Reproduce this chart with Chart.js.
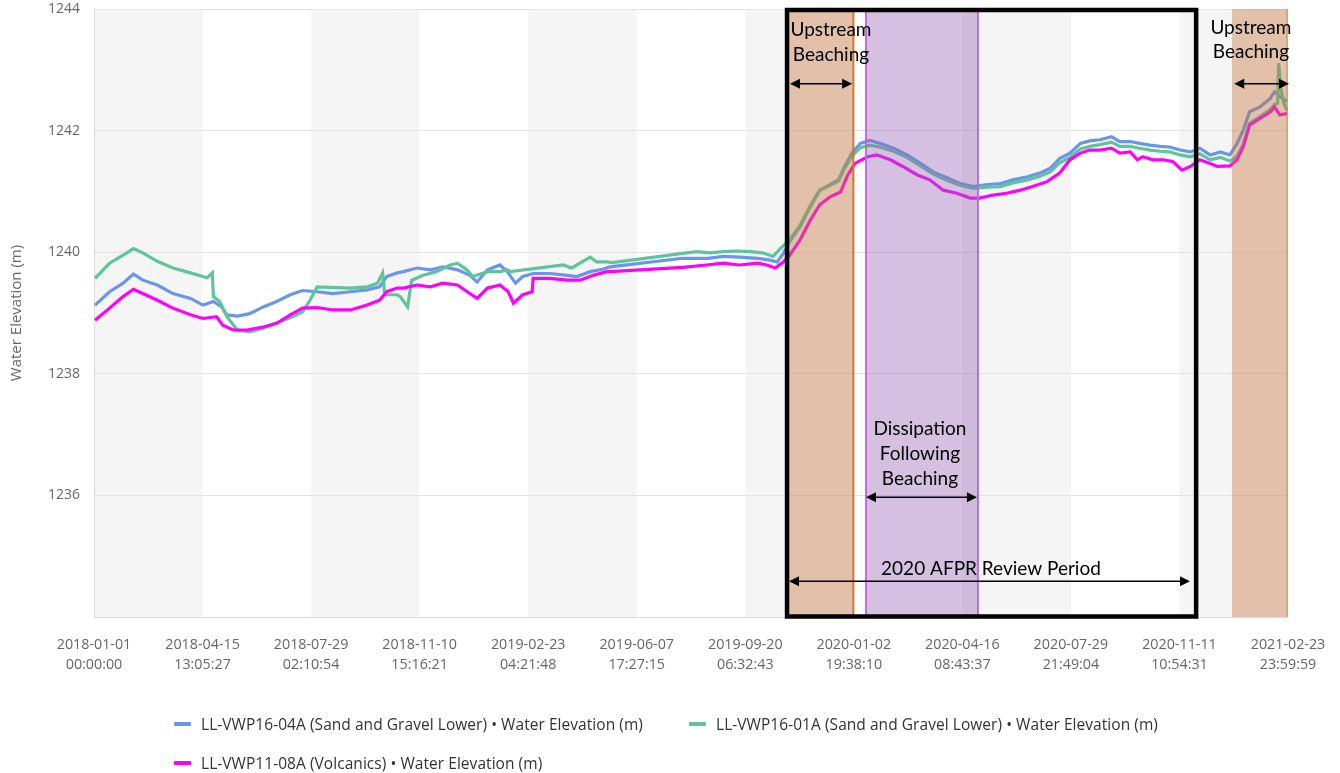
<!DOCTYPE html>
<html>
<head>
<meta charset="utf-8">
<title>Water Elevation</title>
<script src="https://cdn.jsdelivr.net/npm/chart.js@4.4.1/dist/chart.umd.min.js"></script>
<style>
  html, body { margin: 0; padding: 0; background: #ffffff; }
  #wrap { position: relative; width: 1340px; height: 773px; }
  #wrap canvas { position: absolute; left: 0; top: 0; }
  #legend { position: absolute; left: 0; top: 0; width: 1340px; height: 773px; pointer-events: none;
            font-family: "Open Sans", sans-serif; font-size: 15.5px; letter-spacing: 0.05px; color: #333333; }
  .item { position: absolute; height: 20px; line-height: 20px; display: flex; align-items: center; white-space: nowrap; }
  .swatch { width: 17px; height: 4px; margin-right: 10px; border-radius: 1px; }
</style>
</head>
<body>
<div id="wrap">
  <canvas id="chart" width="1340" height="773"></canvas>
  <div id="legend"></div>
</div>
<script>
// ---- Axis labels (days are counted from 2018-01-01 00:00:00) ----
const tickLabels = [
  ['2018-01-01', '00:00:00'], ['2018-04-15', '13:05:27'], ['2018-07-29', '02:10:54'],
  ['2018-11-10', '15:16:21'], ['2019-02-23', '04:21:48'], ['2019-06-07', '17:27:15'],
  ['2019-09-20', '06:32:43'], ['2020-01-02', '19:38:10'], ['2020-04-16', '08:43:37'],
  ['2020-07-29', '21:49:04'], ['2020-11-11', '10:54:31'], ['2021-02-23', '23:59:59']
];
const xMax = 1149 + 86399 / 86400;           // 2021-02-23 23:59:59
const tickDays = tickLabels.map((_, i) => i * xMax / (tickLabels.length - 1));

const seriesNames = [
  'LL-VWP16-04A (Sand and Gravel Lower) \u2022 Water Elevation (m)',
  'LL-VWP16-01A (Sand and Gravel Lower) \u2022 Water Elevation (m)',
  'LL-VWP11-08A (Volcanics) \u2022 Water Elevation (m)'
];

// ---- Readings: [day, water elevation (m)] ----
const vwp1604A = [
  [1,1239.13],[15,1239.35],[28,1239.49],[38,1239.64],[47,1239.54],[61,1239.46],[76,1239.32],[93,1239.24],
  [105,1239.13],[115,1239.19],[123,1239.10],[128,1238.97],[138,1238.95],[150,1238.99],[163,1239.10],
  [176,1239.19],[189,1239.30],[201,1239.37],[215,1239.35],[230,1239.32],[247,1239.35],[263,1239.38],
  [275,1239.43],[282,1239.60],[292,1239.66],[298,1239.68],[311,1239.74],[324,1239.71],[336,1239.76],
  [350,1239.71],[362,1239.62],[369,1239.51],[379,1239.71],[391,1239.79],[398,1239.68],[406,1239.49],
  [413,1239.60],[423,1239.65],[439,1239.65],[456,1239.62],[465,1239.60],[478,1239.68],[490,1239.72],
  [497,1239.76],[567,1239.90],[591,1239.90],[606,1239.93],[622,1239.92],[639,1239.90],[651,1239.87],
  [658,1239.84],[664,1239.98],[670,1240.18],[680,1240.42],[690,1240.75],[699,1241.02],[709,1241.11],
  [717,1241.19],[723,1241.41],[730,1241.63],[738,1241.79],[747,1241.84],[757,1241.79],[770,1241.71],
  [783,1241.60],[796,1241.46],[808,1241.32],[822,1241.22],[834,1241.13],[847,1241.08],[860,1241.11],
  [873,1241.13],[885,1241.19],[899,1241.24],[911,1241.30],[921,1241.38],[930,1241.54],[940,1241.63],
  [950,1241.79],[959,1241.83],[969,1241.85],[980,1241.90],[988,1241.82],[998,1241.82],[1007,1241.79],
  [1017,1241.76],[1027,1241.74],[1036,1241.73],[1046,1241.68],[1056,1241.65],[1065,1241.71],[1075,1241.60],
  [1085,1241.65],[1094,1241.60],[1101,1241.79],[1107,1242.01],[1113,1242.31],[1123,1242.39],[1133,1242.53],
  [1137,1242.64],[1142,1242.56],[1149,1242.48]
];
const vwp1601A = [
  [1,1239.57],[15,1239.82],[28,1239.95],[38,1240.06],[47,1239.99],[61,1239.85],[76,1239.74],[93,1239.66],
  [109,1239.58],[114,1239.66],[115,1239.27],[121,1239.19],[128,1238.94],[138,1238.72],[150,1238.69],
  [163,1238.75],[176,1238.84],[189,1238.92],[201,1239.02],[208,1239.21],[215,1239.43],[227,1239.42],
  [247,1239.41],[263,1239.43],[273,1239.49],[278,1239.66],[280,1239.30],[292,1239.30],[295,1239.27],
  [302,1239.10],[306,1239.54],[317,1239.62],[330,1239.68],[343,1239.79],[350,1239.82],[359,1239.71],
  [365,1239.60],[379,1239.68],[391,1239.68],[398,1239.71],[401,1239.68],[452,1239.79],[460,1239.74],
  [468,1239.82],[478,1239.92],[484,1239.84],[494,1239.84],[499,1239.83],[567,1239.98],[581,1240.01],
  [593,1239.99],[606,1240.01],[619,1240.02],[632,1240.01],[644,1239.99],[654,1239.93],[661,1240.06],
  [666,1240.14],[670,1240.20],[680,1240.44],[690,1240.77],[699,1241.02],[709,1241.10],[717,1241.17],
  [723,1241.38],[730,1241.58],[738,1241.72],[747,1241.76],[757,1241.73],[770,1241.66],[783,1241.56],
  [796,1241.42],[808,1241.29],[822,1241.18],[834,1241.10],[847,1241.05],[860,1241.07],[873,1241.08],
  [885,1241.14],[899,1241.19],[911,1241.25],[921,1241.32],[930,1241.47],[940,1241.56],[950,1241.70],
  [959,1241.74],[969,1241.77],[980,1241.81],[988,1241.74],[998,1241.74],[1007,1241.71],[1017,1241.68],
  [1027,1241.66],[1036,1241.65],[1046,1241.60],[1056,1241.57],[1065,1241.62],[1075,1241.52],[1085,1241.56],
  [1094,1241.50],[1101,1241.58],[1107,1241.78],[1113,1242.12],[1123,1242.23],[1133,1242.35],[1137,1242.43],
  [1140,1242.45],[1141,1243.11],[1143,1242.70],[1146,1242.45],[1149,1242.33]
];
const vwp1108A = [
  [1,1238.88],[15,1239.08],[28,1239.27],[38,1239.39],[47,1239.32],[61,1239.21],[76,1239.08],[93,1238.97],
  [105,1238.91],[118,1238.94],[124,1238.80],[134,1238.72],[147,1238.72],[163,1238.77],[176,1238.83],
  [189,1238.97],[201,1239.08],[215,1239.09],[230,1239.05],[247,1239.05],[263,1239.13],[275,1239.21],
  [282,1239.35],[292,1239.41],[298,1239.41],[311,1239.46],[324,1239.43],[336,1239.49],[350,1239.46],
  [362,1239.32],[369,1239.24],[379,1239.41],[391,1239.46],[399,1239.35],[404,1239.16],[413,1239.30],
  [422,1239.35],[423,1239.57],[439,1239.57],[456,1239.54],[468,1239.54],[481,1239.62],[494,1239.68],
  [497,1239.68],[567,1239.75],[590,1239.79],[606,1239.82],[622,1239.79],[639,1239.82],[648,1239.79],
  [656,1239.74],[664,1239.84],[670,1239.95],[680,1240.20],[690,1240.53],[699,1240.78],[709,1240.91],
  [719,1240.99],[726,1241.27],[733,1241.46],[745,1241.57],[754,1241.60],[767,1241.52],[779,1241.41],
  [793,1241.27],[805,1241.19],[818,1241.02],[831,1240.97],[844,1240.89],[853,1240.89],[866,1240.94],
  [879,1240.97],[892,1241.02],[904,1241.08],[918,1241.16],[930,1241.30],[940,1241.52],[950,1241.63],
  [959,1241.68],[969,1241.68],[980,1241.71],[988,1241.63],[998,1241.65],[1005,1241.52],[1010,1241.57],
  [1020,1241.52],[1030,1241.52],[1039,1241.49],[1048,1241.35],[1056,1241.41],[1065,1241.52],[1075,1241.46],
  [1082,1241.41],[1094,1241.42],[1101,1241.52],[1107,1241.74],[1113,1242.09],[1123,1242.20],[1133,1242.31],
  [1137,1242.39],[1142,1242.26],[1149,1242.28]
];

// ---- Annotated periods (days) ----
const beachingPeriods = [[667.5, 731.4], [1096, xMax]];
const dissipationPeriod = [743.5, 851.4];
const reviewPeriod = [667.5, 1061.5];

const FONT = '"Open Sans", sans-serif';
const NOTE_FONT = '19px Lato, sans-serif';

const toPoints = rows => rows.map(([d, v]) => ({ x: d, y: v }));

// alternating background bands between x ticks
const bandPlugin = {
  id: 'bands',
  beforeDraw(chart) {
    const { ctx, chartArea: a, scales: { x } } = chart;
    ctx.save();
    ctx.fillStyle = '#f5f5f5';
    for (let i = 0; i < tickDays.length - 1; i += 2) {
      const x0 = x.getPixelForValue(tickDays[i]);
      const x1 = x.getPixelForValue(tickDays[i + 1]);
      ctx.fillRect(x0, a.top, x1 - x0, a.bottom - a.top);
    }
    ctx.restore();
  }
};

function arrow(ctx, x0, x1, y) {
  const L = 10, H = 5;
  ctx.beginPath();
  ctx.moveTo(x0 + L - 1, y); ctx.lineTo(x1 - L + 1, y);
  ctx.stroke();
  ctx.beginPath();
  ctx.moveTo(x0, y); ctx.lineTo(x0 + L, y - H); ctx.lineTo(x0 + L, y + H); ctx.closePath();
  ctx.moveTo(x1, y); ctx.lineTo(x1 - L, y - H); ctx.lineTo(x1 - L, y + H); ctx.closePath();
  ctx.fill();
}

// shaded periods, review frame, arrows and notes drawn over the series
const notesPlugin = {
  id: 'notes',
  afterDatasetsDraw(chart) {
    const { ctx, chartArea: a, scales: { x, y } } = chart;
    const px = v => x.getPixelForValue(v);
    const py = v => y.getPixelForValue(v);
    ctx.save();
    ctx.beginPath(); ctx.rect(a.left, a.top - 4, a.right - a.left + 3, a.bottom - a.top + 8); ctx.clip();

    // upstream beaching
    ctx.fillStyle = 'rgba(197,112,57,0.40)';
    beachingPeriods.forEach(([f, t]) => ctx.fillRect(px(f), a.top, px(t) - px(f), a.bottom - a.top));
    ctx.lineWidth = 2;
    ctx.strokeStyle = 'rgba(214,110,36,0.95)';
    ctx.beginPath(); ctx.moveTo(px(beachingPeriods[0][1]), a.top); ctx.lineTo(px(beachingPeriods[0][1]), a.bottom); ctx.stroke();
    ctx.lineWidth = 1.5;
    ctx.strokeStyle = 'rgba(197,112,57,0.45)';
    ctx.beginPath(); ctx.moveTo(a.right - 1, a.top); ctx.lineTo(a.right - 1, a.bottom); ctx.stroke();

    // dissipation following beaching
    const [d0, d1] = dissipationPeriod;
    ctx.fillStyle = 'rgba(150,98,183,0.40)';
    ctx.fillRect(px(d0), a.top, px(d1) - px(d0), a.bottom - a.top);
    ctx.lineWidth = 2;
    ctx.strokeStyle = 'rgba(182,108,220,0.95)';
    [d0, d1].forEach(d => { ctx.beginPath(); ctx.moveTo(px(d), a.top); ctx.lineTo(px(d), a.bottom); ctx.stroke(); });

    // 2020 AFPR review frame
    ctx.lineWidth = 4.5;
    ctx.strokeStyle = '#000000';
    const fx0 = px(reviewPeriod[0]), fx1 = px(reviewPeriod[1]);
    ctx.strokeRect(fx0, a.top + 1, fx1 - fx0, a.bottom - a.top - 1.5);

    // arrows
    ctx.fillStyle = '#000000';
    ctx.strokeStyle = '#000000';
    ctx.lineWidth = 1.5;
    arrow(ctx, px(670.3), px(730.2), py(1242.77));
    arrow(ctx, px(1098.2), px(xMax) + 1, py(1242.77));
    arrow(ctx, px(743.5), px(850.4), py(1235.97));
    arrow(ctx, px(669.4), px(1055.6), py(1234.59));

    // notes
    ctx.font = NOTE_FONT;
    ctx.textAlign = 'center';
    ctx.textBaseline = 'middle';
    const note = (lines, d, v, step) => lines.forEach((t, i) => ctx.fillText(t, px(d), py(v) + i * step));
    note(['Upstream', 'Beaching'], 709.8, 1243.65, 25);
    note(['Upstream', 'Beaching'], 1114.3, 1243.69, 24.5);
    note(['Dissipation', 'Following', 'Beaching'], 795.5, 1237.09, 25);
    note(['2020 AFPR Review Period'], 863.9, 1234.79, 0);
    ctx.restore();
  }
};

const colors = ['#6a96ea', '#5ec49b', '#ff00ff'];
const readings = [vwp1604A, vwp1601A, vwp1108A];

const chart = new Chart(document.getElementById('chart'), {
  type: 'line',
  data: {
    datasets: readings.map((rows, i) => ({
      label: seriesNames[i],
      data: toPoints(rows),
      borderColor: colors[i],
      backgroundColor: colors[i],
      borderWidth: 3.2,
      pointRadius: 0,
      tension: 0,
      fill: false,
      order: 3 - i
    }))
  },
  options: {
    responsive: false,
    animation: false,
    devicePixelRatio: 1,
    layout: { padding: { top: 9, right: 52, bottom: 0, left: 0 } },
    plugins: { legend: { display: false }, tooltip: { enabled: false } },
    scales: {
      x: {
        type: 'linear',
        min: 0,
        max: xMax,
        afterBuildTicks(s) { s.ticks = tickDays.map(v => ({ value: v })); },
        afterFit(s) { s.height = 156; s.paddingLeft = 0; s.paddingRight = 0; },
        ticks: {
          autoSkip: false, maxRotation: 0, minRotation: 0, padding: 18,
          color: '#666666', font: { family: FONT, size: 14.3, lineHeight: 1.4 },
          callback: (v, i) => tickLabels[i]
        },
        grid: { color: 'rgba(0,0,0,0)', drawTicks: false },
        border: { display: true, color: '#dcdcdc', width: 1 }
      },
      y: {
        min: 1234,
        max: 1244,
        afterFit(s) { s.width = 94; s.paddingTop = 0; s.paddingBottom = 0; },
        ticks: {
          stepSize: 2, padding: 14,
          color: '#666666', font: { family: FONT, size: 14 },
          callback: v => (v === 1234 ? '' : v)
        },
        grid: { color: '#e3e3e3', drawTicks: false },
        border: { display: true, color: '#dcdcdc', width: 1 },
        title: {
          display: true, text: 'Water Elevation (m)', color: '#666666',
          font: { family: FONT, size: 15 }, padding: { top: 8, bottom: 0 }
        }
      }
    }
  },
  plugins: [bandPlugin, notesPlugin]
});

// legend
const legendPos = [[174, 714], [689, 714], [174, 753]];
const legend = document.getElementById('legend');
chart.data.datasets.forEach((ds, i) => {
  const item = document.createElement('div');
  item.className = 'item';
  item.style.left = legendPos[i][0] + 'px';
  item.style.top = legendPos[i][1] + 'px';
  const sw = document.createElement('span');
  sw.className = 'swatch';
  sw.style.background = ds.borderColor;
  const label = document.createElement('span');
  label.textContent = ds.label;
  item.appendChild(sw);
  item.appendChild(label);
  legend.appendChild(item);
});
</script>
</body>
</html>
